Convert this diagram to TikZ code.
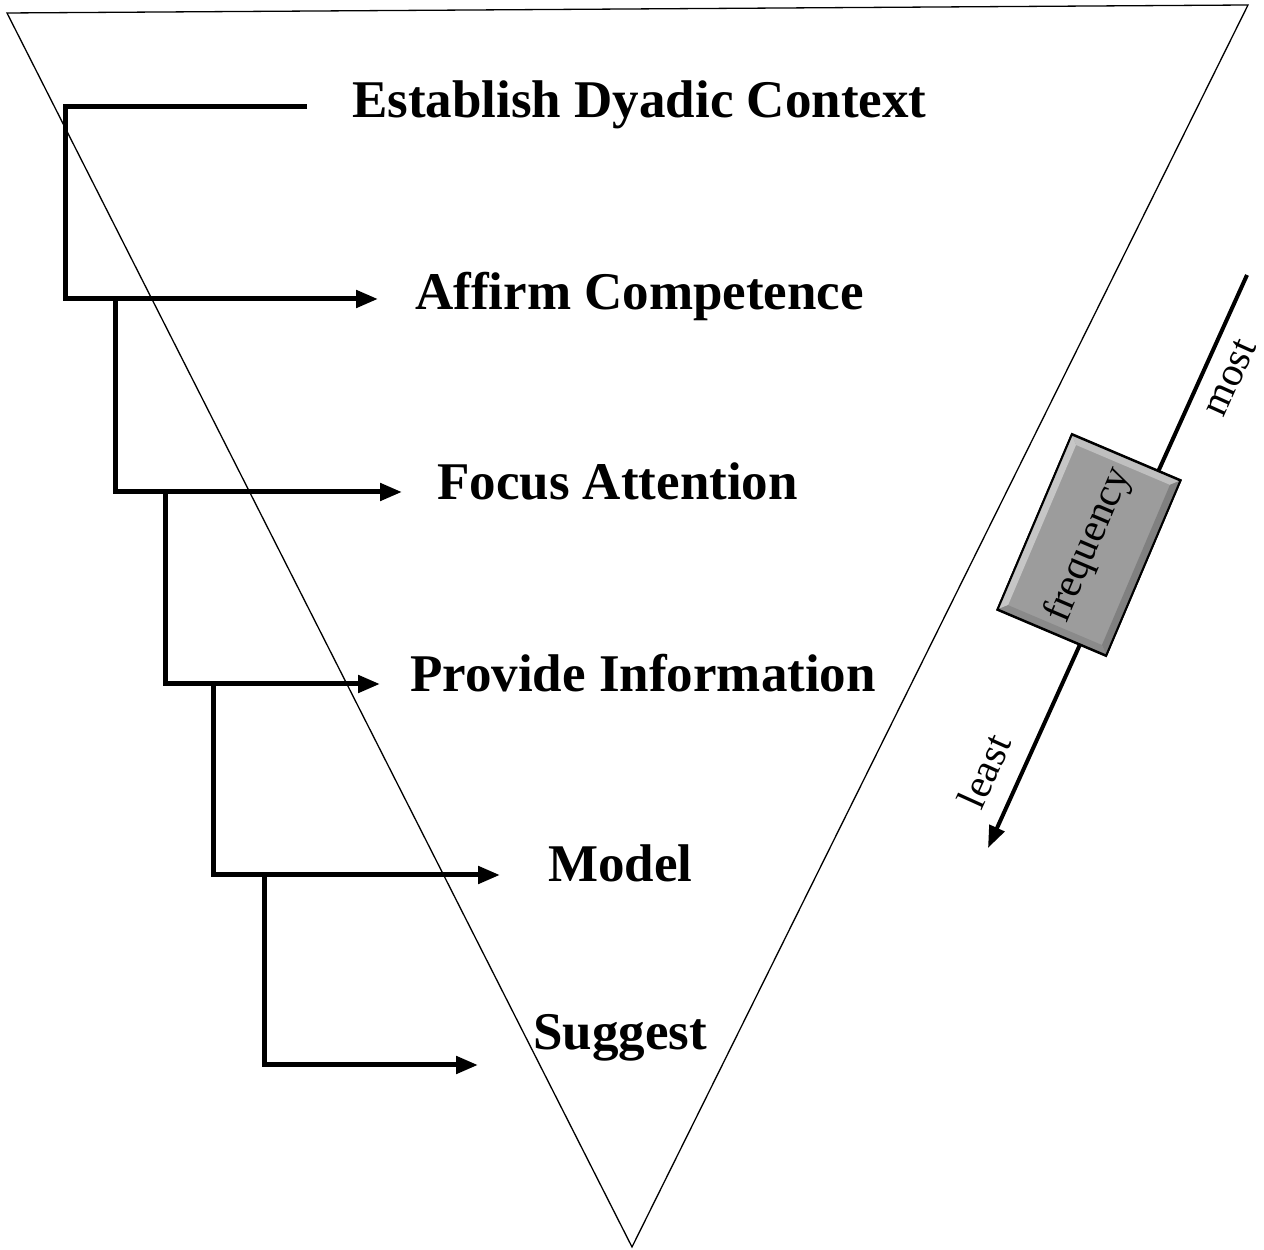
\documentclass[tikz,border=0pt]{standalone}
\usepackage{fontspec}
\setmainfont{Liberation Serif}
\usetikzlibrary{arrows.meta}
\begin{document}
\begin{tikzpicture}[x=1bp,y=1bp,
  tri/.style={line width=1.3bp, line join=miter},
  brk/.style={line width=5bp, line cap=butt, line join=miter},
  arr/.style={brk, -{Triangle[length=22bp,width=17bp]}},
  lbl/.style={font=\fontsize{53bp}{60bp}\selectfont\bfseries, inner sep=0pt, anchor=base west},
  rlbl/.style={font=\fontsize{41bp}{44bp}\selectfont, inner sep=0pt, rotate=65.7},
  freqbox/.style={draw=black, line width=2bp, fill=gray!78, rotate=67,
    minimum width=191bp, minimum height=118bp, inner sep=0pt,
    font=\fontsize{41bp}{44bp}\selectfont}]
\useasboundingbox (0,0) rectangle (1264,1250);
% triangle
\coordinate (TL) at (7,1237);
\coordinate (TR) at (1248,1245);
\coordinate (BT) at (632,3);
\draw[tri] (TL) -- (TR) -- (BT) -- cycle;
% labels
\node[lbl] (t1) at (352,1132) {Establish Dyadic Context};
\node[lbl] (t2) at (415,940) {Affirm Competence};
\node[lbl] (t3) at (437,750) {Focus Attention};
\node[lbl] (t4) at (410,558) {Provide Information};
\node[lbl] (t5) at (548,368) {Model};
\node[lbl] (t6) at (533,200) {Suggest};
% bracket coordinates
\coordinate (s0) at (307,1143);
\coordinate (c1) at (65,1143);
\coordinate (c2) at (65,951);
\coordinate (e2) at (378,951);
\coordinate (d3) at (115,951);
\coordinate (c3) at (115,758);
\coordinate (e3) at (402,758);
\coordinate (d4) at (165,758);
\coordinate (c4) at (165,566);
\coordinate (e4) at (380,566);
\coordinate (d5) at (213,566);
\coordinate (c5) at (213,375);
\coordinate (e5) at (500,375);
\coordinate (d6) at (264,375);
\coordinate (c6) at (264,185);
\coordinate (e6) at (478,185);
\draw[arr] (s0) -- (c1) -- (c2) -- (e2);
\draw[arr] (d3) -- (c3) -- (e3);
\draw[arr] (d4) -- (c4) -- (e4);
\draw[arr] (d5) -- (c5) -- (e5);
\draw[arr] (d6) -- (c6) -- (e6);
% frequency scale
\coordinate (fs) at (1247,975);
\coordinate (fe) at (988,402);
\draw[line width=4bp, -{Triangle[length=22bp,width=16bp]}] (fs) -- (fe);
\node[freqbox] (fq) at (1089,705) {frequency};
\begin{scope}[shift={(1089,705)}, rotate=67]
  \fill[gray!45] (-95,59) -- (95,59) -- (87,51) -- (-87,51) -- cycle;
  \fill[gray!50] (95,59) -- (95,-59) -- (87,-51) -- (87,51) -- cycle;
  \fill[gray!100] (95,-59) -- (-95,-59) -- (-87,-51) -- (87,-51) -- cycle;
  \fill[gray!92] (-95,-59) -- (-95,59) -- (-87,51) -- (-87,-51) -- cycle;
  \draw[line width=2bp] (-95,-59) rectangle (95,59);
\end{scope}
\node[rlbl] (most) at (1230,872) {most};
\node[rlbl] (least) at (984,479) {least};
\end{tikzpicture}
\end{document}
